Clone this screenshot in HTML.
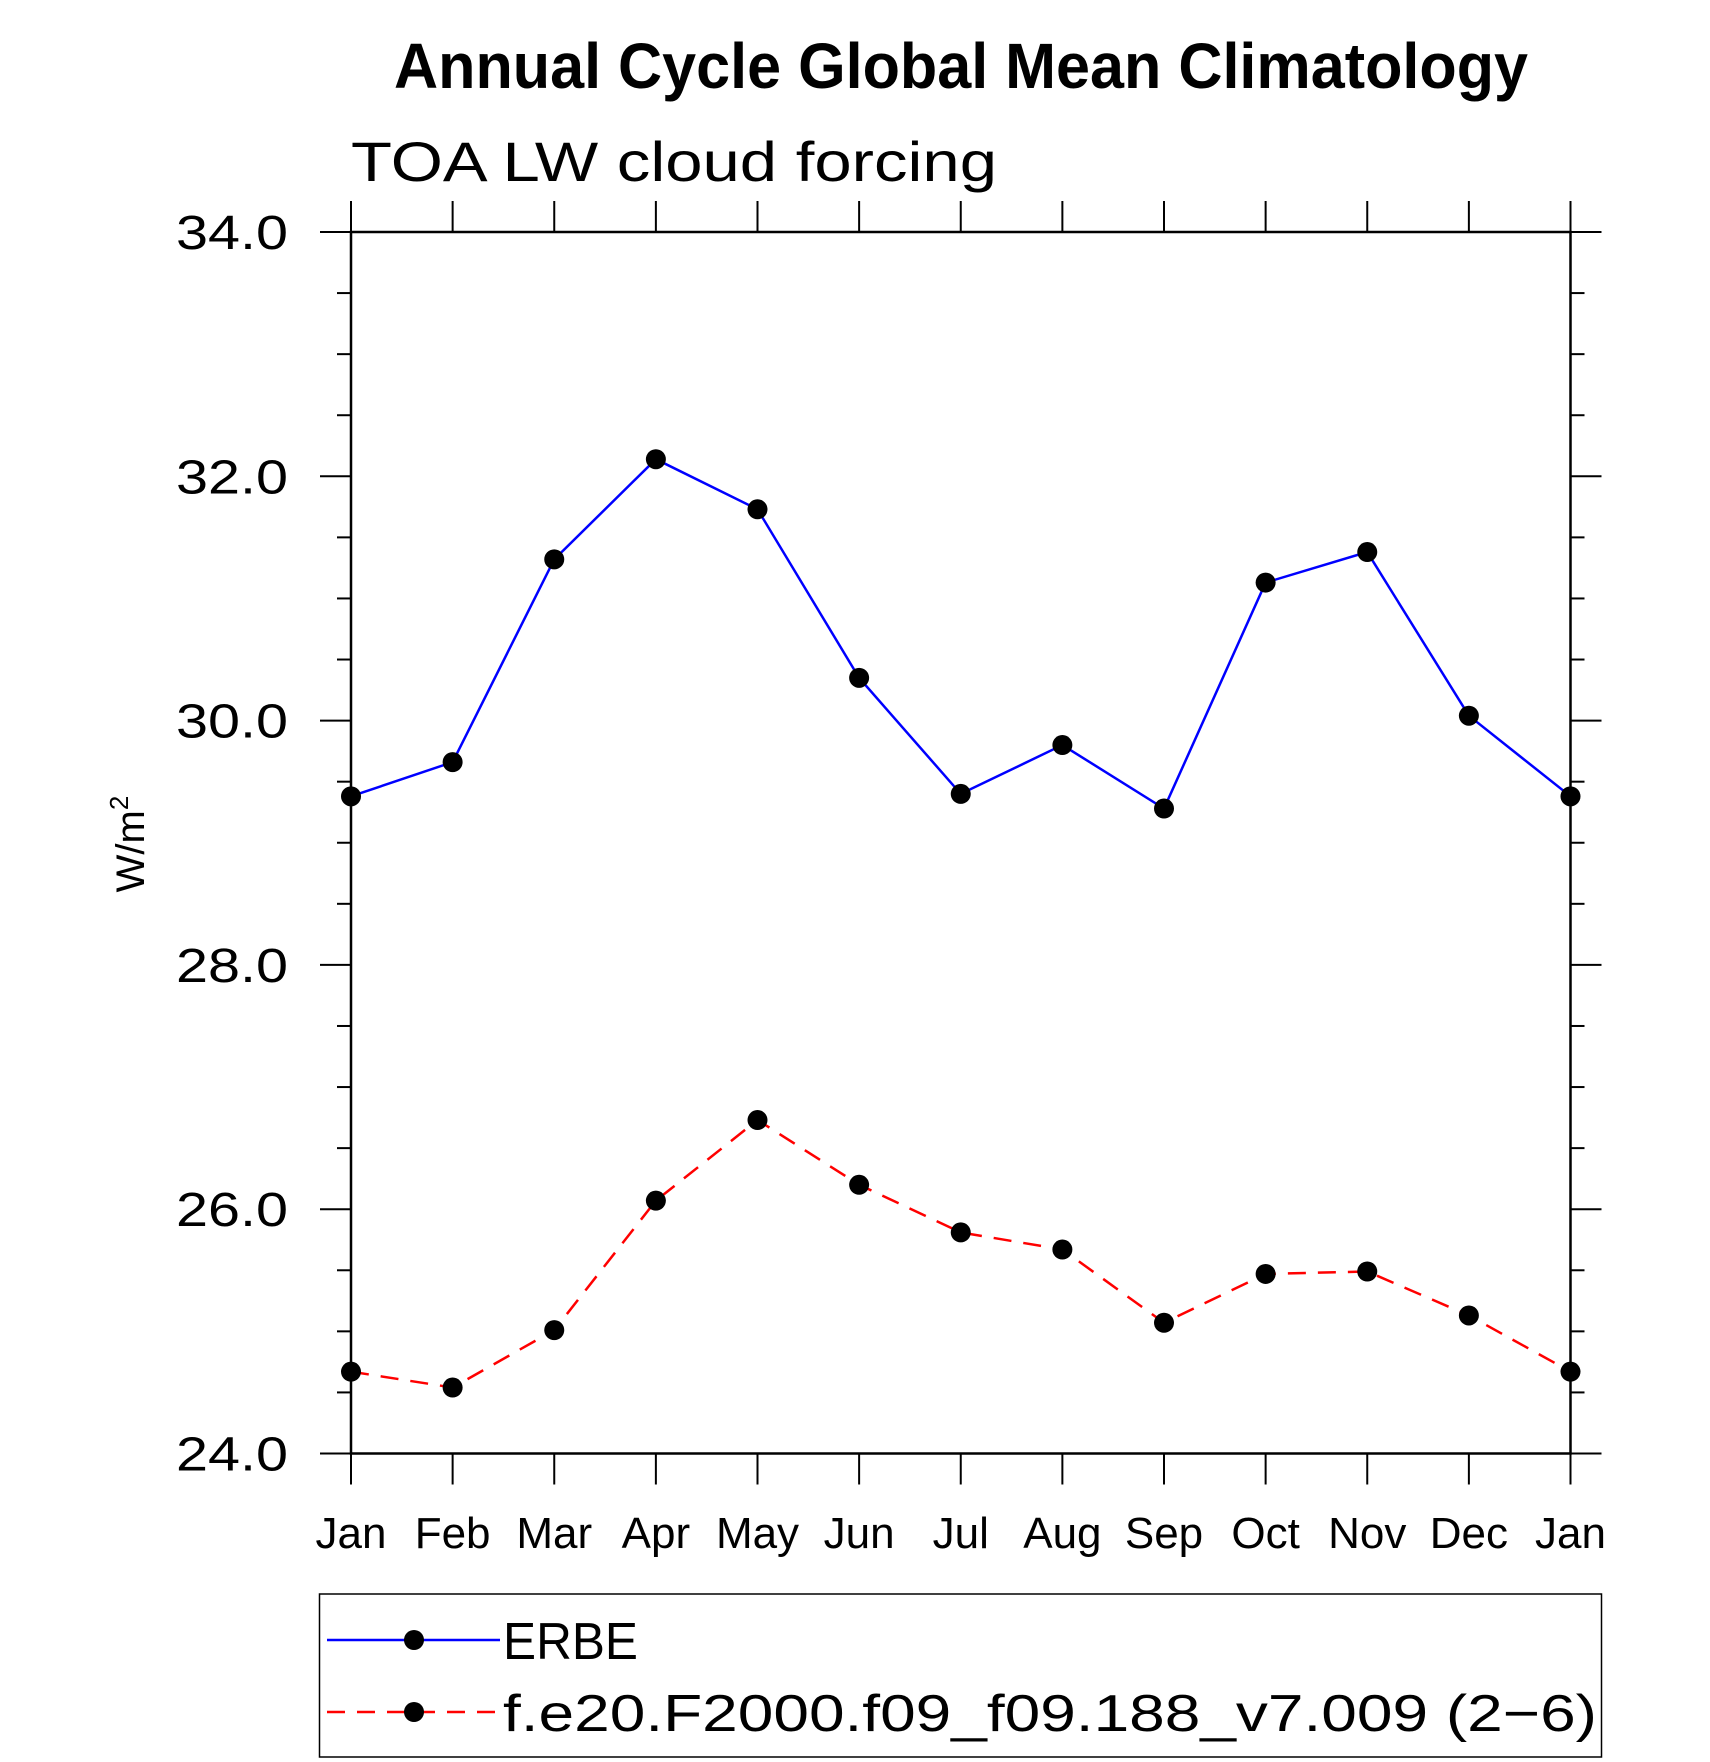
<!DOCTYPE html>
<html><head><meta charset="utf-8"><style>
html,body{margin:0;padding:0;background:#fff;}
svg{display:block;font-family:"Liberation Sans",sans-serif;}
</style></head><body>
<svg id="chart" width="1710" height="1762" viewBox="0 0 1710 1762" xmlns="http://www.w3.org/2000/svg">
<text x="961" y="88" text-anchor="middle" font-size="64" font-weight="bold" textLength="1134" lengthAdjust="spacingAndGlyphs">Annual Cycle Global Mean Climatology</text>
<text x="351" y="181" font-size="56" textLength="646" lengthAdjust="spacingAndGlyphs" fill="#000">TOA LW cloud forcing</text>
<text transform="translate(144,844) rotate(-90)" text-anchor="middle" font-size="40">W/m<tspan font-size="26" dy="-16">2</tspan></text>
<g id="axes"></g>
<g id="series"></g>
<g>
<rect x="319.5" y="1594" width="1282" height="163" fill="none" stroke="#000" stroke-width="1.5"/>
<line x1="327" y1="1640" x2="500" y2="1640" stroke="#0000ff" stroke-width="2.5"/>
<circle cx="414" cy="1640" r="10"/>
<text x="503" y="1659" font-size="52" textLength="135" lengthAdjust="spacingAndGlyphs">ERBE</text>
<line x1="327" y1="1712" x2="500" y2="1712" stroke="#ff0000" stroke-width="2.5" stroke-dasharray="18,12"/>
<circle cx="414" cy="1712" r="10"/>
<text x="503" y="1731" font-size="52" textLength="1094" lengthAdjust="spacingAndGlyphs">f.e20.F2000.f09_f09.188_v7.009 (2−6)</text>
</g>
</svg>
<script>
const months = ["Jan","Feb","Mar","Apr","May","Jun","Jul","Aug","Sep","Oct","Nov","Dec","Jan"];
const erbe = [29.38,29.66,31.32,32.14,31.73,30.35,29.40,29.80,29.28,31.13,31.38,30.04,29.38];
const model = [24.67,24.54,25.01,26.07,26.73,26.20,25.81,25.67,25.07,25.47,25.49,25.13,24.67];
const yTicks = ["24.0","26.0","28.0","30.0","32.0","34.0"];

const NS="http://www.w3.org/2000/svg";
const L=351,R=1570.5,T=232,B=1453.5,yMin=24,yMax=34;
const xs=i=>L+(R-L)*i/(months.length-1);
const ys=v=>B-(B-T)*(v-yMin)/(yMax-yMin);
function mk(tag,attrs,parent){const e=document.createElementNS(NS,tag);for(const k in attrs)e.setAttribute(k,attrs[k]);parent.appendChild(e);return e;}
const ax=document.getElementById('axes');
const frame=mk('rect',{x:L,y:T,width:R-L,height:B-T,fill:'none',stroke:'#000','stroke-width':2.5},ax);


// x ticks
months.forEach((m,i)=>{
  const x=xs(i);
  const t1=mk('line',{x1:x,y1:B,x2:x,y2:B+31,stroke:'#000','stroke-width':2},ax);
  
  
  const t2=mk('line',{x1:x,y1:T,x2:x,y2:T-31,stroke:'#000','stroke-width':2},ax);
  
  
  const lb=mk('text',{x:x,y:1548,'text-anchor':'middle','font-size':44},ax);
  lb.textContent=m;
  
  
});
// y ticks
for(let v=yMin;v<=yMax+1e-9;v+=0.5){
  const y=ys(v);const major=Math.abs(v-Math.round(v/2)*2)<1e-6;
  const len=major?31:14;
  const a=mk('line',{x1:L-len,y1:y,x2:L,y2:y,stroke:'#000','stroke-width':2},ax);
  
  
  const b=mk('line',{x1:R,y1:y,x2:R+len,y2:y,stroke:'#000','stroke-width':2},ax);
  
  
}
yTicks.forEach(s=>{
  const v=parseFloat(s);
  const t=mk('text',{x:288,y:ys(v)+17,'text-anchor':'end','font-size':48,textLength:112,lengthAdjust:'spacingAndGlyphs'},ax);
  t.textContent=s;
  
  
});
const sg=document.getElementById('series');
function drawSeries(vals,color,dash,name){
  const pts=vals.map((v,i)=>xs(i)+','+ys(v)).join(' ');
  const pl=mk('polyline',{points:pts,fill:'none',stroke:color,'stroke-width':2.5},sg);
  if(dash)pl.setAttribute('stroke-dasharray',dash);
  
  
  vals.forEach((v,i)=>{
    const c=mk('circle',{cx:xs(i),cy:ys(v),r:10,fill:'#000'},sg);
    
    
  });
}
drawSeries(erbe,'#0000ff',null,'erbe');
drawSeries(model,'#ff0000','18,12','model');
</script>
</body></html>
